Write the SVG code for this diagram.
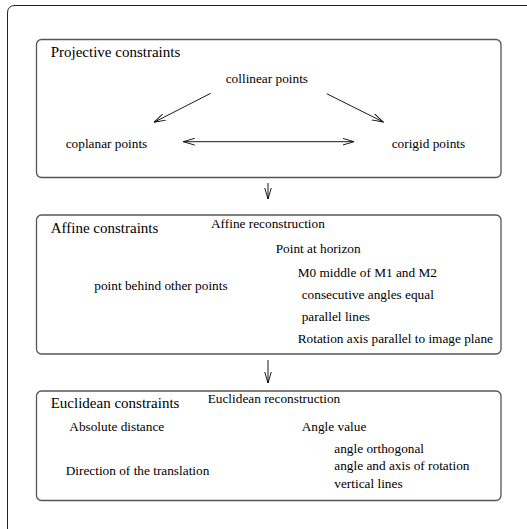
<svg xmlns="http://www.w3.org/2000/svg" width="527" height="529" viewBox="0 0 527 529">
<style>
  .frame{fill:none;stroke:#222;stroke-width:1}
  .box{fill:#fff;stroke:#555;stroke-width:1.3}
  .title{font-size:15px;fill:#000}
  .t{font-size:13.3px;fill:#000}
  .conn{fill:none;stroke:#000;stroke-width:0.9}
</style>
<defs>
  <marker id="v" viewBox="0 0 12 8" refX="11.5" refY="4" markerWidth="12" markerHeight="8" markerUnits="userSpaceOnUse" orient="auto-start-reverse">
    <path d="M0,0.6 L11.5,4 L0,7.4" fill="none" stroke="#000" stroke-width="0.9"/>
  </marker>
</defs>
<rect width="527" height="529" fill="#fff"/>
<path class="frame" d="M7.5,540 V13 Q7.5,5.5 15,5.5 H540"/>
<g font-family="Liberation Serif, Times New Roman, serif">
<g id="projective">
  <rect class="box" x="36.5" y="39.5" width="464.5" height="138" rx="5"/>
  <text class="title" x="50.7" y="57">Projective constraints</text>
  <text class="t" x="225.7" y="82.7">collinear points</text>
  <text class="t" x="65.7" y="148.3">coplanar points</text>
  <text class="t" x="391.7" y="148.3">corigid points</text>
</g>
<g id="affine">
  <rect class="box" x="36.5" y="215" width="464.5" height="139" rx="5"/>
  <text class="title" x="50.7" y="233.3">Affine constraints</text>
  <text class="t" x="211" y="228.3">Affine reconstruction</text>
  <text class="t" x="275.7" y="253.3">Point at horizon</text>
  <text class="t" x="297.7" y="277.3">M0 middle of M1 and M2</text>
  <text class="t" x="94.3" y="290">point behind other points</text>
  <text class="t" x="301.7" y="299.3">consecutive angles equal</text>
  <text class="t" x="301.7" y="320.5">parallel lines</text>
  <text class="t" x="297.7" y="343.3">Rotation axis parallel to image plane</text>
</g>
<g id="euclidean">
  <rect class="box" x="36.5" y="391" width="464.5" height="109.5" rx="5"/>
  <text class="title" x="50.7" y="408.3">Euclidean constraints</text>
  <text class="t" x="207.7" y="403.3">Euclidean reconstruction</text>
  <text class="t" x="69.3" y="430.7">Absolute distance</text>
  <text class="t" x="301.7" y="430.7">Angle value</text>
  <text class="t" x="334.3" y="452.7">angle orthogonal</text>
  <text class="t" x="65.7" y="475">Direction of the translation</text>
  <text class="t" x="334.3" y="470">angle and axis of rotation</text>
  <text class="t" x="334.3" y="487.7">vertical lines</text>
</g>
</g>
<g id="connectors">
  <line class="conn" x1="210.7" y1="93.3" x2="154" y2="122.3" marker-end="url(#v)"/>
  <line class="conn" x1="326.7" y1="93.7" x2="383.3" y2="122" marker-end="url(#v)"/>
  <line class="conn" x1="183.3" y1="141.7" x2="354" y2="141.7" marker-start="url(#v)" marker-end="url(#v)"/>
  <line class="conn" x1="268" y1="183" x2="268" y2="199" marker-end="url(#v)"/>
  <line class="conn" x1="268" y1="360" x2="268" y2="383" marker-end="url(#v)"/>
</g>
</svg>
